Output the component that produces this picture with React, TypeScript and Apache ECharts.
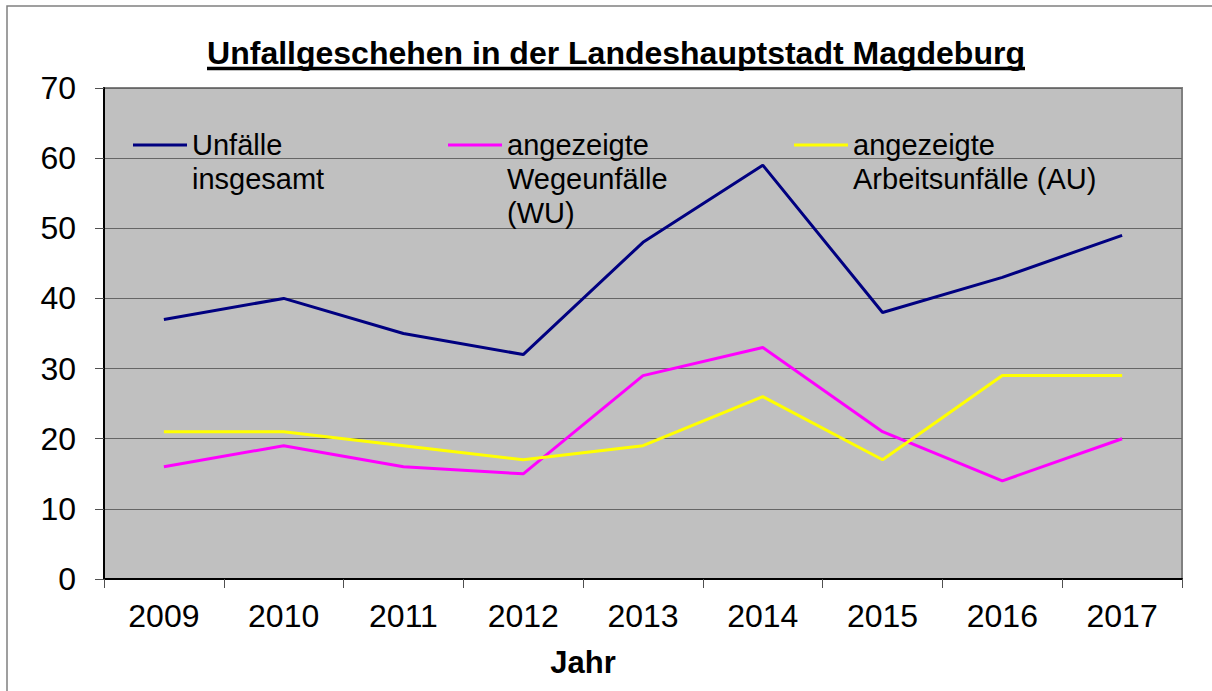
import React, { useEffect, useRef } from "react";
import * as echarts from "echarts";

const years = ["2009", "2010", "2011", "2012", "2013", "2014", "2015", "2016", "2017"];
const unfaelleInsgesamt = [37, 40, 35, 32, 48, 59, 38, 43, 49];
const wegeunfaelle = [16, 19, 16, 15, 29, 33, 21, 14, 20];
const arbeitsunfaelle = [21, 21, 19, 17, 19, 26, 17, 29, 29];

const seriesNames = ["Unfälle\ninsgesamt", "angezeigte\nWegeunfälle\n(WU)", "angezeigte\nArbeitsunfälle (AU)"];
const seriesColors = ["#000080", "#FF00FF", "#FFFF00"];
const titleText = "Unfallgeschehen in der Landeshauptstadt Magdeburg";
const xAxisTitle = "Jahr";

const FONT = "'Liberation Sans', Arial, Helvetica, sans-serif";

export default function App() {
  const ref = useRef<HTMLDivElement>(null);
  useEffect(() => {
    document.body.style.margin = "0";
    const chart = echarts.init(ref.current!, null, { renderer: "svg" });
    const legendX = [133, 448, 794];
    const legendGraphics: any[] = [];
    seriesNames.forEach((n, i) => {
      legendGraphics.push({
        type: "line",
        shape: { x1: legendX[i], y1: 145, x2: legendX[i] + 54, y2: 145 },
        style: { stroke: seriesColors[i], lineWidth: 3 },
        z: 10,
      });
      legendGraphics.push({
        type: "text",
        x: legendX[i] + 59,
        y: 128,
        style: {
          text: n,
          font: `29px ${FONT}`,
          fill: "#000",
          lineHeight: 34,
          verticalAlign: "top",
          align: "left",
        },
        z: 10,
      });
    });
    chart.setOption({
      animation: false,
      backgroundColor: "#fff",
      textStyle: { fontFamily: FONT },
      grid: {
        left: 104,
        right: 30,
        top: 88,
        bottom: 112,
        show: true,
        backgroundColor: "#C0C0C0",
        borderColor: "#808080",
        borderWidth: 2,
      },
      xAxis: {
        type: "category",
        data: years,
        boundaryGap: true,
        axisLine: { show: true, lineStyle: { color: "#000", width: 2 } },
        axisTick: { show: true, length: 9, lineStyle: { color: "#505050", width: 1 } },
        axisLabel: { fontSize: 32, color: "#000", margin: 21, fontFamily: FONT },
        splitLine: { show: false },
      },
      yAxis: {
        type: "value",
        min: 0,
        max: 70,
        interval: 10,
        axisLine: { show: true, lineStyle: { color: "#000", width: 2 } },
        axisTick: { show: true, length: 9, lineStyle: { color: "#505050", width: 1 } },
        axisLabel: { fontSize: 32, color: "#000", margin: 28, fontFamily: FONT },
        splitLine: { show: true, lineStyle: { color: "#666666", width: 1 } },
      },
      series: [
        { name: seriesNames[0], type: "line", data: unfaelleInsgesamt, symbol: "none", lineStyle: { color: seriesColors[0], width: 3 }, itemStyle: { color: seriesColors[0] } },
        { name: seriesNames[1], type: "line", data: wegeunfaelle, symbol: "none", lineStyle: { color: seriesColors[1], width: 3 }, itemStyle: { color: seriesColors[1] } },
        { name: seriesNames[2], type: "line", data: arbeitsunfaelle, symbol: "none", lineStyle: { color: seriesColors[2], width: 3 }, itemStyle: { color: seriesColors[2] } },
      ],
      graphic: [
        {
          type: "rect",
          shape: { x: 7, y: 6, width: 1300, height: 800 },
          style: { fill: "none", stroke: "#808080", lineWidth: 1.5 },
          silent: true,
        },
        {
          type: "text",
          x: 616,
          y: 53,
          style: {
            text: titleText,
            font: `bold 32px ${FONT}`,
            fill: "#000",
            align: "center",
            verticalAlign: "middle",
          },
        },
        {
          type: "line",
          shape: { x1: 207, y1: 68.5, x2: 1025, y2: 68.5 },
          style: { stroke: "#000", lineWidth: 3.5 },
        },
        {
          type: "text",
          x: 583,
          y: 662,
          style: {
            text: xAxisTitle,
            font: `bold 31px ${FONT}`,
            fill: "#000",
            align: "center",
            verticalAlign: "middle",
          },
        },
        ...legendGraphics,
      ],
    });
    return () => chart.dispose();
  }, []);
  return <div ref={ref} style={{ width: 1212, height: 691 }} />;
}
